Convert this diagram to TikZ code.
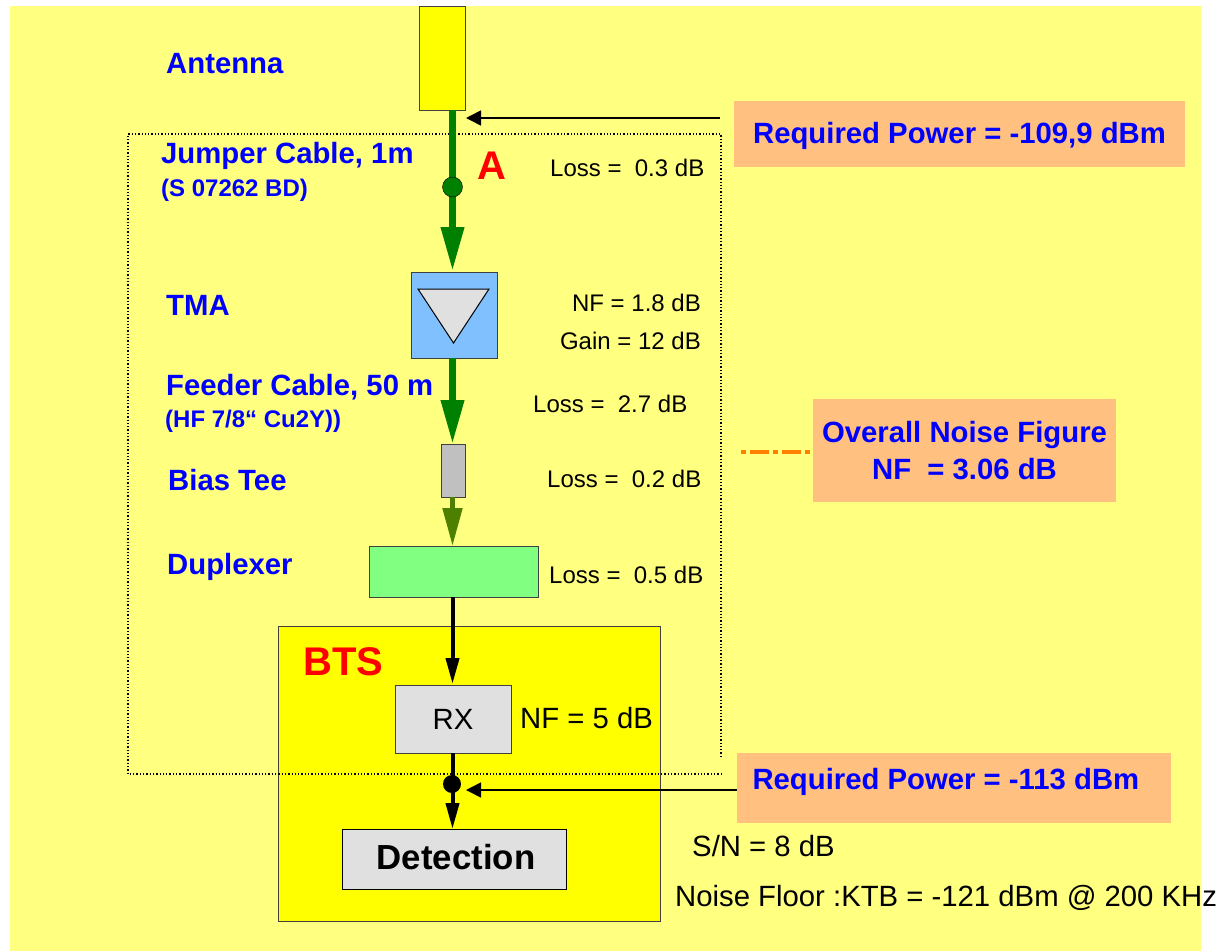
\documentclass[tikz,border=0pt]{standalone}
\usepackage{fontspec}
\setmainfont{Liberation Sans}
\usetikzlibrary{arrows.meta}
\definecolor{bgyellow}{RGB}{255,255,128}
\definecolor{btsyellow}{RGB}{255,255,0}
\definecolor{boxorange}{RGB}{255,192,128}
\definecolor{tmablue}{RGB}{128,192,255}
\definecolor{dupgreen}{RGB}{128,255,128}
\definecolor{rxgray}{RGB}{224,224,224}
\definecolor{teegray}{RGB}{192,192,192}
\definecolor{wireolive}{RGB}{77,128,0}
\definecolor{wiregreen}{RGB}{0,128,0}
\definecolor{lineorange}{RGB}{255,128,0}
\tikzset{
    unit/.style={draw=black!75,line width=1pt,inner sep=0pt},
    title/.style={anchor=west,inner sep=0pt,text=blue,font=\fontsize{29.3}{32}\selectfont\bfseries},
    subtitle/.style={anchor=west,inner sep=0pt,text=blue,font=\fontsize{24}{28}\selectfont\bfseries},
    value/.style={anchor=west,inner sep=0pt,font=\fontsize{24}{28}\selectfont},
    bigvalue/.style={value,font=\fontsize{29.3}{32}\selectfont},
    redlabel/.style={anchor=west,inner sep=0pt,text=red,font=\fontsize{40}{44}\selectfont\bfseries},
    result/.style={fill=boxorange,inner sep=0pt,text=blue,align=center,font=\fontsize{29.3}{37}\selectfont\bfseries},
    thickwire/.style={line width=7pt,wiregreen,-{Triangle[length=44pt,width=22pt]}},
    thinwire/.style={line width=4pt,black,-{Triangle[length=26pt,width=13pt]}},
    pointer/.style={line width=1.6pt,black,-{Triangle[length=15pt,width=15pt]}},
}
\begin{document}
\begin{tikzpicture}[x=1pt,y=-1pt]
    \useasboundingbox (0,0) rectangle (1220,951);
    % the sheet
    \fill[bgyellow] (10,6) rectangle (1201,951);
    % the blocks
    \node[unit,fill=btsyellow,minimum width=46pt,minimum height=104pt] (antenna) at (442.5,58) {};
    \node[unit,fill=tmablue,minimum width=86pt,minimum height=86pt] (tma) at (454,315) {};
    \node[unit,fill=teegray,minimum width=24pt,minimum height=53pt] (tee) at (453,470.5) {};
    \node[unit,fill=dupgreen,minimum width=169pt,minimum height=51pt] (duplexer) at (453.5,571.5) {};
    \node[unit,fill=btsyellow,minimum width=382pt,minimum height=295pt] (bts) at (469.5,773.5) {};
    \node[unit,fill=rxgray,minimum width=116pt,minimum height=68pt,font=\fontsize{29.3}{32}\selectfont] (rx) at (453,719) {RX};
    \node[unit,fill=rxgray,draw=black,minimum width=224pt,minimum height=60pt,text depth=4pt,font=\fontsize{34.8}{38}\selectfont\bfseries] (detection) at (454,859) {\hspace{4pt}Detection};
    % the triangle of the amplifier
    \draw[line width=1pt,fill=rxgray] (418,289) -- (489,289) -- (453.5,343) -- cycle;
    % the dotted frame
    \draw[line width=1.3pt,dotted] (721,757) -- (721,134) -- (128,134) -- (128,774) -- (722,774);
    % the wires
    \coordinate (antennaout) at (452.5,110);
    \coordinate (tmain) at (452.5,271);
    \coordinate (tmaout) at (452.5,358);
    \coordinate (teein) at (452.5,444);
    \coordinate (teeout) at (452.5,497);
    \coordinate (dupin) at (452.5,546);
    \coordinate (dupout) at (452.5,597);
    \coordinate (rxin) at (452.5,684);
    \coordinate (rxout) at (452.5,753);
    \coordinate (detin) at (452.5,829);
    \draw[thickwire] (antennaout) -- (tmain);
    \draw[thickwire] (tmaout) -- (teein);
    \draw[thickwire,line width=5pt,wireolive,-{Triangle[length=38pt,width=19pt]}] (teeout) -- (dupin);
    \draw[thinwire] (dupout) -- (rxin);
    \draw[thinwire] (rxout) -- (detin);
    \node[circle,draw=black,fill=wiregreen,minimum size=20pt,inner sep=0pt] (pointa) at (452.5,187) {};
    \node[circle,fill=black,minimum size=18pt,inner sep=0pt] (pointb) at (452,784) {};
    % the boxes on the right
    \node[result,minimum width=451pt,minimum height=66pt,text height=26pt] (reqtop) at (959.5,134) {Required Power = -109,9 dBm};
    \node[result,minimum width=303pt,minimum height=103pt] (overall) at (964.5,450.5) {Overall Noise Figure\\NF\ \ = 3.06 dB};
    \node[result,minimum width=434pt,minimum height=70pt,text depth=18pt] (reqbot) at (954,788) {Required Power = -113 dBm\ \ };
    \coordinate (toptail) at (720,118);
    \coordinate (tophead) at (466,118);
    \coordinate (bottail) at (737,790);
    \coordinate (bothead) at (466,790);
    \coordinate (dashend) at (741,452);
    \draw[pointer] (toptail) -- (tophead);
    \draw[pointer] (bottail) -- (bothead);
    \draw[line width=4pt,lineorange,dash pattern=on 5pt off 4pt on 19pt off 4pt] (dashend) -- (overall.west |- dashend);
    % the labels
    \node[title] (antennalabel) at (166,64) {Antenna};
    \node[title] (jumperlabel) at (161,156) {Jumper Cable, 1m};
    \node[subtitle] (jumpertype) at (161,190) {(S 07262 BD)};
    \node[title] (tmalabel) at (166,305) {TMA};
    \node[title] (feederlabel) at (166,387) {Feeder Cable, 50 m};
    \node[subtitle] (feedertype) at (165,421) {(HF 7/8“ Cu2Y))};
    \node[title] (teelabel) at (168,480) {Bias Tee};
    \node[title] (duplabel) at (167,567) {Duplexer};
    \node[redlabel] (alabel) at (477,166) {A};
    \node[redlabel] (btslabel) at (303,662) {BTS};
    \node[value] (lossa) at (550,168) {Loss =\ \ 0.3 dB};
    \node[value,anchor=east] (nfa) at (701,303) {NF = 1.8 dB};
    \node[value,anchor=east] (gaina) at (701,341) {Gain = 12 dB};
    \node[value] (lossb) at (533,404) {Loss =\ \ 2.7 dB};
    \node[value] (lossc) at (547,479) {Loss =\ \ 0.2 dB};
    \node[value] (lossd) at (549,575) {Loss =\ \ 0.5 dB};
    \node[bigvalue] (nfb) at (520,718) {NF = 5 dB};
    \node[bigvalue] (snr) at (692,846) {S/N = 8 dB};
    \node[bigvalue] (floor) at (675,898) {Noise Floor :KTB = -121 dBm @ 200 KHz};
\end{tikzpicture}
\end{document}
